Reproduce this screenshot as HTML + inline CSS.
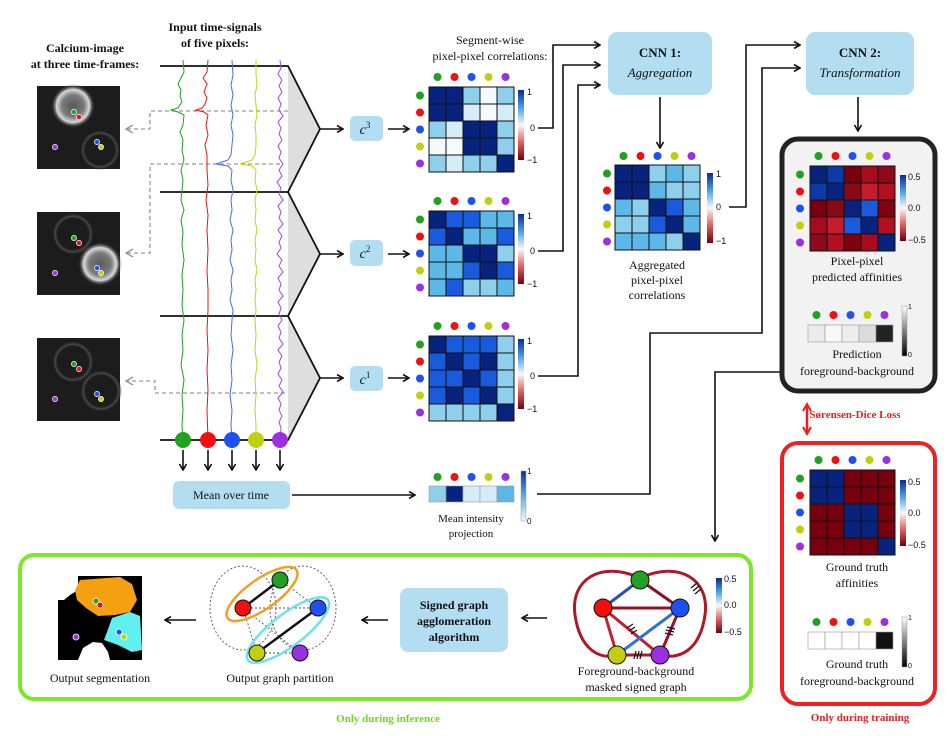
<!DOCTYPE html>
<html><head><meta charset="utf-8">
<style>
html,body{margin:0;padding:0;background:#fff;}
svg{display:block;font-family:"Liberation Serif",serif;}
.t{font-size:12px;fill:#111;text-anchor:middle;}
.b{font-weight:bold;}
.s{font-family:"Liberation Sans",sans-serif;font-size:9px;fill:#111;}
.m rect{width:17px;height:17px;stroke:#111;stroke-width:1;}
.br rect{width:17px;height:17px;stroke:#999;stroke-width:0.6;}
</style></head><body>
<svg width="951" height="736" viewBox="0 0 951 736" xmlns="http://www.w3.org/2000/svg">
<defs>
<marker id="ah" markerWidth="8" markerHeight="8" refX="7" refY="4" orient="auto" markerUnits="userSpaceOnUse"><path d="M1,0.5 L7,4 L1,7.5" fill="none" stroke="#111" stroke-width="1.6"/></marker>
<marker id="ag" markerWidth="10" markerHeight="10" refX="8" refY="5" orient="auto" markerUnits="userSpaceOnUse"><path d="M1,1 L8,5 L1,9" fill="none" stroke="#999" stroke-width="1.4"/></marker>
<marker id="ar" markerWidth="10" markerHeight="10" refX="8" refY="5" orient="auto-start-reverse" markerUnits="userSpaceOnUse"><path d="M1,1 L8,5 L1,9" fill="none" stroke="#e82020" stroke-width="2"/></marker>
<linearGradient id="cbRB" x1="0" y1="0" x2="0" y2="1"><stop offset="0" stop-color="#0a2a9a"/><stop offset="0.25" stop-color="#4aa0e0"/><stop offset="0.5" stop-color="#f8f8f8"/><stop offset="0.75" stop-color="#e06060"/><stop offset="1" stop-color="#700010"/></linearGradient>
<linearGradient id="cbB" x1="0" y1="0" x2="0" y2="1"><stop offset="0" stop-color="#0a2a9a"/><stop offset="0.5" stop-color="#5ab0e0"/><stop offset="1" stop-color="#f4f8fb"/></linearGradient>
<linearGradient id="cbG" x1="0" y1="0" x2="0" y2="1"><stop offset="0" stop-color="#fff"/><stop offset="1" stop-color="#000"/></linearGradient>
<radialGradient id="cellB"><stop offset="0" stop-color="#5a5a5a"/><stop offset="0.5" stop-color="#7a7a7a"/><stop offset="0.75" stop-color="#d8d8d8"/><stop offset="1" stop-color="#1c1c1c" stop-opacity="0"/></radialGradient>
<radialGradient id="cellD"><stop offset="0" stop-color="#1c1c1c" stop-opacity="0"/><stop offset="0.7" stop-color="#1c1c1c" stop-opacity="0"/><stop offset="0.85" stop-color="#4a4a4a"/><stop offset="1" stop-color="#1c1c1c" stop-opacity="0"/></radialGradient>
<g id="dr"><circle cx="8.5" cy="0" r="4" fill="#22a020"/><circle cx="25.5" cy="0" r="4" fill="#f01010"/><circle cx="42.5" cy="0" r="4" fill="#2050f0"/><circle cx="59.5" cy="0" r="4" fill="#c0d010"/><circle cx="76.5" cy="0" r="4" fill="#9a30e0"/></g>
<g id="dc"><circle cy="8.5" cx="0" r="4" fill="#22a020"/><circle cy="25.5" cx="0" r="4" fill="#f01010"/><circle cy="42.5" cx="0" r="4" fill="#2050f0"/><circle cy="59.5" cx="0" r="4" fill="#c0d010"/><circle cy="76.5" cx="0" r="4" fill="#9a30e0"/></g>
<g id="idots" stroke="#fff" stroke-width="0.7"><circle cx="74" cy="112" r="2.6" fill="#22a020"/><circle cx="79" cy="117" r="2.6" fill="#f01010"/><circle cx="97" cy="142" r="2.6" fill="#2050f0"/><circle cx="101" cy="147" r="2.6" fill="#c0d010"/><circle cx="55" cy="147" r="2.6" fill="#9a30e0"/></g>
</defs>

<text class="t b" x="85" y="52">Calcium-image</text>
<text class="t b" x="85" y="68">at three time-frames:</text>
<text class="t b" x="215" y="31">Input time-signals</text>
<text class="t b" x="215" y="47">of five pixels:</text>

<!-- images -->
<rect x="37" y="86" width="83" height="83" fill="#1c1c1c"/>
<circle cx="73" cy="106" r="22" fill="url(#cellB)"/>
<circle cx="100" cy="150" r="20" fill="url(#cellD)"/>
<rect x="37" y="212" width="83" height="83" fill="#1c1c1c"/>
<circle cx="73" cy="234" r="21" fill="url(#cellD)"/>
<circle cx="100" cy="264" r="22" fill="url(#cellB)"/>
<rect x="37" y="338" width="83" height="83" fill="#1c1c1c"/>
<circle cx="73" cy="362" r="21" fill="url(#cellD)"/>
<circle cx="101" cy="391" r="21" fill="url(#cellD)"/>
<use href="#idots"/>
<use href="#idots" x="0" y="126"/>
<use href="#idots" x="0" y="252"/>

<g fill="none" stroke="#999" stroke-width="1.3" stroke-dasharray="4,3">
<path d="M288,111 L150,111 L150,129 L126,129" marker-end="url(#ag)"/>
<path d="M280,164 L150,164 L150,253 L126,253" marker-end="url(#ag)"/>
<path d="M285,393 L155,393 L155,381 L126,381" marker-end="url(#ag)"/>
</g>

<g fill="#dedede">
<polygon points="288,66 320,129 288,192"/>
<polygon points="288,192 320,254 288,316"/>
<polygon points="288,316 320,378 288,440"/>
</g>
<g fill="none" stroke="#111" stroke-width="1.8">
<path d="M160,66 L288,66 L320,129 L288,192 L160,192"/>
<path d="M288,192 L320,254 L288,316 L160,316"/>
<path d="M288,316 L320,378 L288,440 L160,440"/>
</g>

<!-- signals -->
<g fill="none" stroke-width="1">
<path stroke="#22a020" d="M183,60 L184,72 L181,78 L178,84 L181,90 L180,96 L182,102 L178,108 L171,110 L178,112 L184,115 L183,125 L180,132 L183,140 L182,150 L184,160 L181,170 L183,180 L182,190 L181,200 L184,210 L181,220 L183,232 L182,245 L184,260 L182,275 L183,290 L182,305 L184,320 L182,335 L183,350 L181,365 L184,380 L182,395 L183,410 L182,425 L183,440"/>
<path stroke="#f01010" d="M208,60 L207,72 L203,78 L207,84 L204,92 L207,98 L205,104 L202,108 L196,110 L204,112 L208,115 L206,125 L208,135 L205,145 L207,155 L207,170 L208,185 L206,200 L208,215 L207,230 L208,250 L207,270 L208,290 L208,310 L207,330 L208,350 L207,370 L208,390 L207,410 L208,440"/>
<path stroke="#4a6af0" d="M232,60 L233,75 L231,85 L233,95 L231,105 L233,115 L231,125 L233,135 L232,145 L231,155 L228,160 L216,164 L228,166 L232,170 L231,180 L233,190 L231,200 L232,210 L230,220 L233,230 L231,240 L232,250 L230,260 L233,270 L231,280 L232,290 L230,300 L233,310 L232,320 L231,335 L233,350 L231,365 L232,380 L230,395 L232,410 L231,425 L232,440"/>
<path stroke="#c8d010" d="M256,60 L256,75 L257,85 L255,95 L256,105 L257,115 L255,125 L256,135 L256,145 L255,155 L252,160 L240,164 L252,166 L256,170 L255,180 L257,190 L255,200 L256,210 L255,220 L257,230 L255,240 L256,250 L255,260 L257,270 L255,280 L256,290 L255,300 L256,310 L255,320 L256,335 L255,350 L257,365 L255,380 L256,395 L255,410 L256,425 L256,440"/>
<path stroke="#b040e8" d="M280,60 L281,68 L278,74 L282,80 L279,86 L282,92 L278,98 L281,104 L279,110 L283,116 L278,122 L281,128 L279,134 L282,140 L278,146 L281,152 L279,158 L283,164 L279,170 L282,176 L277,182 L281,188 L279,194 L283,200 L278,206 L281,212 L279,218 L283,224 L278,230 L282,236 L279,242 L281,248 L277,254 L282,260 L279,266 L283,272 L278,278 L281,284 L279,290 L283,296 L278,302 L281,308 L279,314 L282,320 L278,326 L281,332 L279,338 L283,344 L278,350 L282,356 L279,362 L281,368 L278,374 L282,380 L279,386 L283,392 L278,398 L281,404 L279,410 L282,416 L279,422 L281,428 L280,440"/>
</g>
<circle cx="183" cy="440" r="8" fill="#22a020"/><circle cx="208" cy="440" r="8" fill="#f01010"/><circle cx="232" cy="440" r="8" fill="#2050f0"/><circle cx="256" cy="440" r="8" fill="#c0d010"/><circle cx="280" cy="440" r="8" fill="#9a30e0"/>
<g stroke="#111" stroke-width="1.6" fill="none">
<line x1="183" y1="450" x2="183" y2="470" marker-end="url(#ah)"/>
<line x1="208" y1="450" x2="208" y2="470" marker-end="url(#ah)"/>
<line x1="232" y1="450" x2="232" y2="470" marker-end="url(#ah)"/>
<line x1="256" y1="450" x2="256" y2="470" marker-end="url(#ah)"/>
<line x1="280" y1="450" x2="280" y2="470" marker-end="url(#ah)"/>
</g>
<rect x="173" y="481" width="117" height="28" rx="6" fill="#b3def2"/>
<text class="t" x="231" y="499">Mean over time</text>

<g fill="#b3def2">
<rect x="350" y="116" width="33" height="25" rx="5"/>
<rect x="350" y="240" width="33" height="26" rx="5"/>
<rect x="350" y="366" width="33" height="25" rx="5"/>
</g>
<text class="t" x="365" y="134" style="font-style:italic;font-size:14px">c<tspan dy="-6" font-size="9" font-style="normal">3</tspan></text>
<text class="t" x="365" y="258" style="font-style:italic;font-size:14px">c<tspan dy="-6" font-size="9" font-style="normal">2</tspan></text>
<text class="t" x="365" y="384" style="font-style:italic;font-size:14px">c<tspan dy="-6" font-size="9" font-style="normal">1</tspan></text>
<g stroke="#111" stroke-width="1.6" fill="none">
<line x1="320" y1="129" x2="343" y2="129" marker-end="url(#ah)"/>
<line x1="320" y1="254" x2="343" y2="254" marker-end="url(#ah)"/>
<line x1="320" y1="378" x2="343" y2="378" marker-end="url(#ah)"/>
<line x1="388" y1="129" x2="409" y2="129" marker-end="url(#ah)"/>
<line x1="388" y1="254" x2="409" y2="254" marker-end="url(#ah)"/>
<line x1="388" y1="378" x2="409" y2="378" marker-end="url(#ah)"/>
<path d="M538,128 L553,128 L553,45 L600,45" marker-end="url(#ah)"/>
<path d="M538,251 L563,251 L563,65 L600,65" marker-end="url(#ah)"/>
<path d="M538,376 L578,376 L578,85 L600,85" marker-end="url(#ah)"/>
<line x1="660" y1="97" x2="660" y2="148" marker-end="url(#ah)"/>
<path d="M729,207 L746,207 L746,45 L800,45" marker-end="url(#ah)"/>
<path d="M537,494 L650,494 L650,333 L762,333 L762,68 L800,68" marker-end="url(#ah)"/>
<line x1="858" y1="97" x2="858" y2="131" marker-end="url(#ah)"/>
<line x1="292" y1="495" x2="415" y2="495" marker-end="url(#ah)"/>
<path d="M780,372 L715,372 L715,541" marker-end="url(#ah)"/>
</g>

<text class="t" x="490" y="44">Segment-wise</text>
<text class="t" x="490" y="60">pixel-pixel correlations:</text>

<rect x="608" y="32" width="104" height="63" rx="9" fill="#b3def2"/>
<text class="t b" x="660" y="57" style="font-size:13px">CNN 1:</text>
<text class="t" x="660" y="77" style="font-style:italic;font-size:13px">Aggregation</text>
<rect x="806" y="32" width="108" height="63" rx="9" fill="#b3def2"/>
<text class="t b" x="860" y="57" style="font-size:13px">CNN 2:</text>
<text class="t" x="860" y="77" style="font-style:italic;font-size:13px">Transformation</text>

<!-- black box bg -->
<rect x="782" y="139" width="153" height="252" rx="16" fill="#f2f2f2" stroke="#222" stroke-width="5"/>
<rect x="782" y="443" width="153" height="261" rx="16" fill="#fff" stroke="#f02020" stroke-width="4"/>

<!-- matrices -->
<g class="m" transform="translate(429,87)">
<rect x="0" y="0" fill="#08237e"/><rect x="17" y="0" fill="#08237e"/><rect x="34" y="0" fill="#8ed0ec"/><rect x="51" y="0" fill="#f4fafd"/><rect x="68" y="0" fill="#8ed0ec"/>
<rect x="0" y="17" fill="#08237e"/><rect x="17" y="17" fill="#08237e"/><rect x="34" y="17" fill="#d6ecf6"/><rect x="51" y="17" fill="#f4fafd"/><rect x="68" y="17" fill="#d6ecf6"/>
<rect x="0" y="34" fill="#8ed0ec"/><rect x="17" y="34" fill="#d6ecf6"/><rect x="34" y="34" fill="#08237e"/><rect x="51" y="34" fill="#08237e"/><rect x="68" y="34" fill="#8ed0ec"/>
<rect x="0" y="51" fill="#f4fafd"/><rect x="17" y="51" fill="#f4fafd"/><rect x="34" y="51" fill="#08237e"/><rect x="51" y="51" fill="#08237e"/><rect x="68" y="51" fill="#8ed0ec"/>
<rect x="0" y="68" fill="#8ed0ec"/><rect x="17" y="68" fill="#d6ecf6"/><rect x="34" y="68" fill="#8ed0ec"/><rect x="51" y="68" fill="#8ed0ec"/><rect x="68" y="68" fill="#08237e"/>
</g>
<use href="#dr" x="429" y="77"/><use href="#dc" x="420" y="87"/>
<g class="m" transform="translate(429,211)">
<rect x="0" y="0" fill="#08237e"/><rect x="17" y="0" fill="#1a5adc"/><rect x="34" y="0" fill="#1a5adc"/><rect x="51" y="0" fill="#5cb8e6"/><rect x="68" y="0" fill="#5cb8e6"/>
<rect x="0" y="17" fill="#1a5adc"/><rect x="17" y="17" fill="#08237e"/><rect x="34" y="17" fill="#5cb8e6"/><rect x="51" y="17" fill="#5cb8e6"/><rect x="68" y="17" fill="#1a5adc"/>
<rect x="0" y="34" fill="#5cb8e6"/><rect x="17" y="34" fill="#5cb8e6"/><rect x="34" y="34" fill="#08237e"/><rect x="51" y="34" fill="#08237e"/><rect x="68" y="34" fill="#8ed0ec"/>
<rect x="0" y="51" fill="#5cb8e6"/><rect x="17" y="51" fill="#5cb8e6"/><rect x="34" y="51" fill="#1a5adc"/><rect x="51" y="51" fill="#08237e"/><rect x="68" y="51" fill="#1a5adc"/>
<rect x="0" y="68" fill="#5cb8e6"/><rect x="17" y="68" fill="#1a5adc"/><rect x="34" y="68" fill="#8ed0ec"/><rect x="51" y="68" fill="#8ed0ec"/><rect x="68" y="68" fill="#5cb8e6"/>
</g>
<use href="#dr" x="429" y="201"/><use href="#dc" x="420" y="211"/>
<g class="m" transform="translate(429,336)">
<rect x="0" y="0" fill="#08237e"/><rect x="17" y="0" fill="#1a5adc"/><rect x="34" y="0" fill="#1a5adc"/><rect x="51" y="0" fill="#1a5adc"/><rect x="68" y="0" fill="#8ed0ec"/>
<rect x="0" y="17" fill="#1a5adc"/><rect x="17" y="17" fill="#08237e"/><rect x="34" y="17" fill="#1a5adc"/><rect x="51" y="17" fill="#08237e"/><rect x="68" y="17" fill="#8ed0ec"/>
<rect x="0" y="34" fill="#1a5adc"/><rect x="17" y="34" fill="#1a5adc"/><rect x="34" y="34" fill="#08237e"/><rect x="51" y="34" fill="#1a5adc"/><rect x="68" y="34" fill="#8ed0ec"/>
<rect x="0" y="51" fill="#1a5adc"/><rect x="17" y="51" fill="#08237e"/><rect x="34" y="51" fill="#1a5adc"/><rect x="51" y="51" fill="#08237e"/><rect x="68" y="51" fill="#8ed0ec"/>
<rect x="0" y="68" fill="#8ed0ec"/><rect x="17" y="68" fill="#8ed0ec"/><rect x="34" y="68" fill="#8ed0ec"/><rect x="51" y="68" fill="#8ed0ec"/><rect x="68" y="68" fill="#08237e"/>
</g>
<use href="#dr" x="429" y="326"/><use href="#dc" x="420" y="336"/>
<g class="m" transform="translate(615,165)">
<rect x="0" y="0" fill="#08237e"/><rect x="17" y="0" fill="#08237e"/><rect x="34" y="0" fill="#8ed0ec"/><rect x="51" y="0" fill="#5cb8e6"/><rect x="68" y="0" fill="#8ed0ec"/>
<rect x="0" y="17" fill="#08237e"/><rect x="17" y="17" fill="#08237e"/><rect x="34" y="17" fill="#5cb8e6"/><rect x="51" y="17" fill="#8ed0ec"/><rect x="68" y="17" fill="#8ed0ec"/>
<rect x="0" y="34" fill="#5cb8e6"/><rect x="17" y="34" fill="#8ed0ec"/><rect x="34" y="34" fill="#08237e"/><rect x="51" y="34" fill="#1a5adc"/><rect x="68" y="34" fill="#5cb8e6"/>
<rect x="0" y="51" fill="#8ed0ec"/><rect x="17" y="51" fill="#8ed0ec"/><rect x="34" y="51" fill="#1a5adc"/><rect x="51" y="51" fill="#08237e"/><rect x="68" y="51" fill="#5cb8e6"/>
<rect x="0" y="68" fill="#5cb8e6"/><rect x="17" y="68" fill="#5cb8e6"/><rect x="34" y="68" fill="#5cb8e6"/><rect x="51" y="68" fill="#8ed0ec"/><rect x="68" y="68" fill="#08237e"/>
</g>
<use href="#dr" x="615" y="156"/><use href="#dc" x="607" y="165"/>
<g class="m" transform="translate(810,166)">
<rect x="0" y="0" fill="#08237e"/><rect x="17" y="0" fill="#0c3aa8"/><rect x="34" y="0" fill="#78000e"/><rect x="51" y="0" fill="#a80b20"/><rect x="68" y="0" fill="#90091a"/>
<rect x="0" y="17" fill="#0c3aa8"/><rect x="17" y="17" fill="#08237e"/><rect x="34" y="17" fill="#8a0a18"/><rect x="51" y="17" fill="#c51d2e"/><rect x="68" y="17" fill="#b01020"/>
<rect x="0" y="34" fill="#78000e"/><rect x="17" y="34" fill="#8a0a18"/><rect x="34" y="34" fill="#08237e"/><rect x="51" y="34" fill="#1a5adc"/><rect x="68" y="34" fill="#80000f"/>
<rect x="0" y="51" fill="#a80b20"/><rect x="17" y="51" fill="#c51d2e"/><rect x="34" y="51" fill="#1a5adc"/><rect x="51" y="51" fill="#08237e"/><rect x="68" y="51" fill="#b01020"/>
<rect x="0" y="68" fill="#90091a"/><rect x="17" y="68" fill="#b01020"/><rect x="34" y="68" fill="#80000f"/><rect x="51" y="68" fill="#a80b20"/><rect x="68" y="68" fill="#08237e"/>
</g>
<use href="#dr" x="810" y="156"/><use href="#dc" x="800" y="166"/>
<g class="m" transform="translate(810,470)">
<rect x="0" y="0" fill="#08237e"/><rect x="17" y="0" fill="#08237e"/><rect x="34" y="0" fill="#78000e"/><rect x="51" y="0" fill="#78000e"/><rect x="68" y="0" fill="#78000e"/>
<rect x="0" y="17" fill="#08237e"/><rect x="17" y="17" fill="#08237e"/><rect x="34" y="17" fill="#78000e"/><rect x="51" y="17" fill="#78000e"/><rect x="68" y="17" fill="#78000e"/>
<rect x="0" y="34" fill="#78000e"/><rect x="17" y="34" fill="#78000e"/><rect x="34" y="34" fill="#08237e"/><rect x="51" y="34" fill="#08237e"/><rect x="68" y="34" fill="#78000e"/>
<rect x="0" y="51" fill="#78000e"/><rect x="17" y="51" fill="#78000e"/><rect x="34" y="51" fill="#08237e"/><rect x="51" y="51" fill="#08237e"/><rect x="68" y="51" fill="#78000e"/>
<rect x="0" y="68" fill="#78000e"/><rect x="17" y="68" fill="#78000e"/><rect x="34" y="68" fill="#78000e"/><rect x="51" y="68" fill="#78000e"/><rect x="68" y="68" fill="#08237e"/>
</g>
<use href="#dr" x="810" y="460"/><use href="#dc" x="800" y="470"/>
<g class="br" transform="translate(429,486)">
<rect x="0" y="0" fill="#8ed0ec" style="height:16px"/><rect x="17" y="0" fill="#08237e" style="height:16px"/><rect x="34" y="0" fill="#d6ecf6" style="height:16px"/><rect x="51" y="0" fill="#d6ecf6" style="height:16px"/><rect x="68" y="0" fill="#5cb8e6" style="height:16px"/>
</g>
<use href="#dr" x="429" y="477" transform="translate(0,0)"/>
<g class="br" transform="translate(808,325)">
<rect x="0" y="0" fill="#ebebeb"/><rect x="17" y="0" fill="#f8f8f8"/><rect x="34" y="0" fill="#ededed"/><rect x="51" y="0" fill="#dcdcdc"/><rect x="68" y="0" fill="#222"/>
</g>
<use href="#dr" x="808" y="315"/>
<g class="br" transform="translate(808,632)">
<rect x="0" y="0" fill="#fff"/><rect x="17" y="0" fill="#fff"/><rect x="34" y="0" fill="#fff"/><rect x="51" y="0" fill="#fff"/><rect x="68" y="0" fill="#111"/>
</g>
<use href="#dr" x="808" y="622"/>

<!-- colorbars -->
<rect x="518" y="90" width="6" height="70" fill="url(#cbRB)"/>
<text class="s" x="527" y="95">1</text><text class="s" x="530" y="131">0</text><text class="s" x="527" y="163">−1</text>
<rect x="518" y="214" width="6" height="70" fill="url(#cbRB)"/>
<text class="s" x="527" y="219">1</text><text class="s" x="530" y="254">0</text><text class="s" x="527" y="287">−1</text>
<rect x="518" y="339" width="6" height="70" fill="url(#cbRB)"/>
<text class="s" x="527" y="344">1</text><text class="s" x="530" y="379">0</text><text class="s" x="527" y="412">−1</text>
<rect x="707" y="173" width="6" height="70" fill="url(#cbRB)"/>
<text class="s" x="716" y="177">1</text><text class="s" x="716" y="210">0</text><text class="s" x="716" y="244">−1</text>
<rect x="521" y="471" width="5" height="50" fill="url(#cbB)" stroke="#999" stroke-width="0.5"/>
<text class="s" x="527" y="474" style="font-size:8px">1</text><text class="s" x="527" y="524" style="font-size:8px">0</text>

<text class="t" x="657" y="269">Aggregated</text>
<text class="t" x="657" y="284">pixel-pixel</text>
<text class="t" x="657" y="299">correlations</text>
<text class="t" x="471" y="522" style="font-size:11px">Mean intensity</text>
<text class="t" x="471" y="537" style="font-size:11px">projection</text>

<rect x="900" y="175" width="6" height="66" fill="url(#cbRB)"/>
<text class="s" x="908" y="180">0.5</text><text class="s" x="908" y="211">0.0</text><text class="s" x="908" y="243">−0.5</text>
<text class="t" x="857" y="265">Pixel-pixel</text>
<text class="t" x="857" y="281">predicted affinities</text>
<rect x="902" y="306" width="5" height="50" fill="url(#cbG)" stroke="#999" stroke-width="0.5"/>
<text class="s" x="908" y="309" style="font-size:7px">1</text><text class="s" x="908" y="357" style="font-size:7px">0</text>
<text class="t" x="857" y="358">Prediction</text>
<text class="t" x="857" y="375">foreground-background</text>

<line x1="807" y1="404" x2="807" y2="434" stroke="#e82020" stroke-width="2.5" marker-end="url(#ar)" marker-start="url(#ar)"/>
<text x="855" y="418" class="t b" style="fill:#e82020;font-size:11px">Sørensen-Dice Loss</text>

<rect x="900" y="480" width="6" height="66" fill="url(#cbRB)"/>
<text class="s" x="908" y="485">0.5</text><text class="s" x="908" y="516">0.0</text><text class="s" x="908" y="548">−0.5</text>
<text class="t" x="857" y="571">Ground truth</text>
<text class="t" x="857" y="587">affinities</text>
<rect x="902" y="617" width="5" height="50" fill="url(#cbG)" stroke="#999" stroke-width="0.5"/>
<text class="s" x="908" y="620" style="font-size:7px">1</text><text class="s" x="908" y="668" style="font-size:7px">0</text>
<text class="t" x="857" y="668">Ground truth</text>
<text class="t" x="857" y="685">foreground-background</text>
<text class="t b" x="860" y="721" style="fill:#e82020;font-size:11px">Only during training</text>

<rect x="20" y="555" width="731" height="144" rx="14" fill="#fff" stroke="#7ae82a" stroke-width="4"/>
<text class="t b" x="388" y="722" style="fill:#6cd820;font-size:11px">Only during inference</text>

<!-- signed graph -->
<g fill="none">
<path d="M640,578 C600,560 570,580 575,615 C580,650 600,660 617,655" stroke="#b01828" stroke-width="3"/>
<path d="M640,578 C680,560 710,580 705,615 C700,650 680,660 660,655" stroke="#b01828" stroke-width="3"/>
<line x1="603" y1="608" x2="680" y2="608" stroke="#9a1020" stroke-width="3"/>
<line x1="640" y1="580" x2="680" y2="608" stroke="#8a1020" stroke-width="3"/>
<line x1="603" y1="608" x2="617" y2="655" stroke="#c02030" stroke-width="3"/>
<line x1="603" y1="608" x2="660" y2="655" stroke="#c02030" stroke-width="3"/>
<line x1="680" y1="608" x2="660" y2="655" stroke="#a01020" stroke-width="3"/>
<line x1="617" y1="655" x2="660" y2="655" stroke="#b01828" stroke-width="3"/>
<line x1="640" y1="580" x2="603" y2="608" stroke="#2050c8" stroke-width="3"/>
<line x1="680" y1="608" x2="617" y2="655" stroke="#2a70e0" stroke-width="3"/>
</g>
<g stroke="#111" stroke-width="1.2">
<path d="M627,628 l6,-4 M629,631 l6,-4 M631,634 l6,-4"/>
<path d="M667,627 l8,2 M666,630 l8,2 M665,633 l8,2"/>
<path d="M636,651 l-2,8 M639,651 l-2,8 M642,651 l-2,8"/>
<path d="M691,588 l6,-5 M693,591 l6,-5 M695,594 l6,-5"/>
</g>
<g stroke="#111" stroke-width="1">
<circle cx="640" cy="580" r="9" fill="#22a020"/>
<circle cx="603" cy="608" r="9" fill="#f01010"/>
<circle cx="680" cy="608" r="9" fill="#2050f0"/>
<circle cx="617" cy="655" r="9" fill="#c0d010"/>
<circle cx="660" cy="655" r="9" fill="#9a30e0"/>
</g>
<rect x="716" y="578" width="6" height="55" fill="url(#cbRB)"/>
<text class="s" x="724" y="582">0.5</text><text class="s" x="724" y="608">0.0</text><text class="s" x="724" y="635">−0.5</text>
<text class="t" x="636" y="675">Foreground-background</text>
<text class="t" x="636" y="691">masked signed graph</text>

<line x1="547" y1="618" x2="522" y2="618" stroke="#111" stroke-width="1.6" marker-end="url(#ah)"/>
<rect x="400" y="588" width="108" height="64" rx="8" fill="#b3def2"/>
<text class="t b" x="454" y="609">Signed graph</text>
<text class="t b" x="454" y="625">agglomeration</text>
<text class="t b" x="454" y="641">algorithm</text>
<line x1="388" y1="620" x2="362" y2="620" stroke="#111" stroke-width="1.6" marker-end="url(#ah)"/>

<g fill="none" stroke="#555" stroke-width="0.9" stroke-dasharray="2,2">
<ellipse cx="243" cy="608" rx="33" ry="42"/>
<ellipse cx="303" cy="608" rx="33" ry="42"/>
<line x1="243" y1="608" x2="318" y2="608"/>
<line x1="243" y1="608" x2="300" y2="653"/>
<line x1="280" y1="580" x2="318" y2="608"/>
<line x1="257" y1="653" x2="300" y2="653"/>
<line x1="243" y1="608" x2="257" y2="653"/>
</g>
<ellipse cx="262" cy="594" rx="42" ry="15" transform="rotate(-35 262 594)" fill="none" stroke="#f0a020" stroke-width="2.5"/>
<ellipse cx="288" cy="630" rx="50" ry="16" transform="rotate(-37 288 630)" fill="none" stroke="#70e0f0" stroke-width="2.5"/>
<line x1="243" y1="608" x2="280" y2="580" stroke="#111" stroke-width="2.5"/>
<line x1="318" y1="608" x2="257" y2="653" stroke="#111" stroke-width="2.5"/>
<g stroke="#111" stroke-width="1">
<circle cx="280" cy="580" r="8" fill="#22a020"/>
<circle cx="243" cy="608" r="8" fill="#f01010"/>
<circle cx="318" cy="608" r="8" fill="#2050f0"/>
<circle cx="257" cy="653" r="8" fill="#c0d010"/>
<circle cx="300" cy="653" r="8" fill="#9a30e0"/>
</g>
<text class="t" x="280" y="682">Output graph partition</text>
<line x1="196" y1="620" x2="165" y2="620" stroke="#111" stroke-width="1.6" marker-end="url(#ah)"/>

<rect x="58" y="576" width="84" height="84" fill="#000"/>
<polygon points="58,576 78,576 78,590 70,595 64,600 58,600" fill="#fff"/>
<polygon points="80,580 120,577 132,584 137,600 130,612 115,615 98,616 86,608 77,600 75,590" fill="#f5a010"/>
<polygon points="112,618 130,612 140,616 142,650 132,652 118,645 104,640 107,632" fill="#60f0f0"/>
<polygon points="78,660 83,648 93,642 102,643 108,652 110,660" fill="#fff"/>
<g stroke="#fff" stroke-width="0.8">
<circle cx="96" cy="601" r="3" fill="#22a020"/><circle cx="100" cy="605" r="3" fill="#f01010"/>
<circle cx="119" cy="632" r="3" fill="#2050f0"/><circle cx="124" cy="637" r="3" fill="#c0d010"/>
<circle cx="76" cy="637" r="3" fill="#9a30e0"/>
</g>
<text class="t" x="100" y="682">Output segmentation</text>
</svg>
</body></html>
